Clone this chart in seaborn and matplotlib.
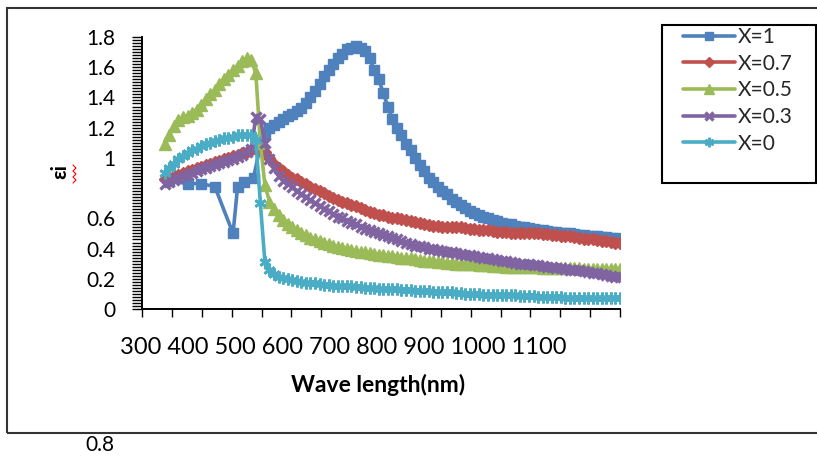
import numpy as np
import matplotlib
matplotlib.use("Agg")
import matplotlib.pyplot as plt
from matplotlib.lines import Line2D
from matplotlib.patches import Rectangle
from matplotlib.ticker import FixedLocator
import seaborn as sns

# Wavelength grids (nm)
wavelength = list(range(350, 1351, 10))
wavelength_x1 = [360, 400, 430, 460, 500, 510, 525, 545, 560] + list(range(570, 1351, 10))

# Imaginary part of the dielectric function, one list per composition
eps_x1 = [
    0.85, 0.83, 0.83, 0.81, 0.50, 0.81, 0.84, 0.87, 1.08,
    1.16, 1.20, 1.22, 1.24, 1.26, 1.28, 1.29, 1.31, 1.33, 1.36,
    1.40, 1.44, 1.49, 1.54, 1.58, 1.62, 1.66, 1.69, 1.72, 1.73,
    1.74, 1.73, 1.71, 1.66, 1.58, 1.52, 1.43, 1.34, 1.26, 1.20,
    1.15, 1.09, 1.05, 1.00, 0.95, 0.91, 0.87, 0.84, 0.81, 0.78,
    0.76, 0.73, 0.71, 0.69, 0.67, 0.65, 0.635, 0.62, 0.61, 0.60,
    0.59, 0.58, 0.57, 0.565, 0.56, 0.55, 0.545, 0.54, 0.535, 0.53,
    0.525, 0.52, 0.515, 0.51, 0.51, 0.505, 0.50, 0.50, 0.495, 0.49,
    0.49, 0.485, 0.48, 0.48, 0.475, 0.475, 0.47, 0.47, 0.465,
]
eps_x07 = [
    0.86, 0.87, 0.88, 0.89, 0.90, 0.91, 0.92, 0.93, 0.94, 0.95,
    0.96, 0.97, 0.98, 0.99, 1.00, 1.01, 1.02, 1.03, 1.04, 1.05,
    1.06, 1.07, 1.04, 1.00, 0.96, 0.93, 0.91, 0.89, 0.87, 0.86,
    0.84, 0.83, 0.81, 0.795, 0.78, 0.765, 0.75, 0.735, 0.72, 0.71,
    0.70, 0.69, 0.68, 0.67, 0.655, 0.645, 0.635, 0.625, 0.62, 0.61,
    0.605, 0.60, 0.595, 0.59, 0.58, 0.575, 0.57, 0.56, 0.555, 0.55,
    0.55, 0.545, 0.545, 0.54, 0.54, 0.54, 0.535, 0.53, 0.53, 0.525,
    0.525, 0.52, 0.515, 0.51, 0.51, 0.51, 0.505, 0.505, 0.50, 0.50,
    0.50, 0.50, 0.50, 0.495, 0.495, 0.49, 0.49, 0.485, 0.48, 0.48,
    0.475, 0.47, 0.465, 0.46, 0.46, 0.455, 0.45, 0.45, 0.445, 0.44,
    0.44,
]
eps_x05 = [
    1.09, 1.15, 1.21, 1.25, 1.27, 1.28, 1.30, 1.32, 1.35, 1.39,
    1.42, 1.45, 1.49, 1.52, 1.55, 1.58, 1.61, 1.64, 1.66, 1.65,
    1.56, 1.10, 0.82, 0.71, 0.66, 0.62, 0.59, 0.56, 0.54, 0.52,
    0.50, 0.49, 0.47, 0.46, 0.45, 0.44, 0.43, 0.42, 0.41, 0.405,
    0.40, 0.39, 0.385, 0.38, 0.375, 0.37, 0.365, 0.36, 0.355, 0.35,
    0.35, 0.345, 0.34, 0.34, 0.335, 0.33, 0.325, 0.32, 0.32, 0.315,
    0.31, 0.31, 0.305, 0.305, 0.30, 0.30, 0.30, 0.295, 0.295, 0.29,
    0.29, 0.29, 0.285, 0.285, 0.285, 0.28, 0.28, 0.28, 0.28, 0.275,
    0.275, 0.275, 0.275, 0.27, 0.27, 0.27, 0.27, 0.27, 0.27, 0.27,
    0.27, 0.27, 0.265, 0.265, 0.265, 0.265, 0.265, 0.265, 0.265, 0.265,
    0.265,
]
eps_x03 = [
    0.83, 0.84, 0.855, 0.87, 0.88, 0.89, 0.90, 0.915, 0.925, 0.935,
    0.945, 0.955, 0.965, 0.975, 0.985, 0.995, 1.005, 1.02, 1.04, 1.06,
    1.27, 1.26, 1.10, 0.99, 0.93, 0.88, 0.85, 0.83, 0.81, 0.78,
    0.76, 0.74, 0.72, 0.70, 0.68, 0.665, 0.65, 0.63, 0.61, 0.60,
    0.585, 0.57, 0.56, 0.545, 0.53, 0.52, 0.51, 0.50, 0.49, 0.48,
    0.47, 0.46, 0.45, 0.44, 0.43, 0.42, 0.415, 0.41, 0.40, 0.395,
    0.39, 0.385, 0.38, 0.375, 0.37, 0.365, 0.36, 0.355, 0.35, 0.345,
    0.34, 0.335, 0.33, 0.325, 0.32, 0.315, 0.31, 0.305, 0.30, 0.30,
    0.295, 0.29, 0.29, 0.285, 0.28, 0.275, 0.27, 0.27, 0.265, 0.26,
    0.26, 0.255, 0.25, 0.245, 0.24, 0.235, 0.23, 0.225, 0.22, 0.215,
    0.21,
]
eps_x0 = [
    0.90, 0.93, 0.96, 0.99, 1.01, 1.03, 1.05, 1.06, 1.08, 1.09,
    1.10, 1.11, 1.12, 1.13, 1.13, 1.14, 1.15, 1.15, 1.15, 1.15,
    1.12, 0.70, 0.31, 0.26, 0.23, 0.215, 0.205, 0.20, 0.19, 0.185,
    0.18, 0.175, 0.17, 0.17, 0.165, 0.16, 0.16, 0.155, 0.155, 0.15,
    0.15, 0.15, 0.145, 0.145, 0.14, 0.14, 0.14, 0.135, 0.135, 0.13,
    0.13, 0.13, 0.125, 0.125, 0.125, 0.12, 0.12, 0.12, 0.12, 0.115,
    0.115, 0.11, 0.11, 0.11, 0.105, 0.105, 0.10, 0.10, 0.10, 0.10,
    0.095, 0.095, 0.095, 0.09, 0.09, 0.09, 0.09, 0.09, 0.085, 0.085,
    0.085, 0.085, 0.08, 0.08, 0.08, 0.08, 0.08, 0.08, 0.075, 0.075,
    0.075, 0.075, 0.075, 0.07, 0.07, 0.07, 0.07, 0.07, 0.07, 0.07,
    0.07,
]

series_labels = ["X=1", "X=0.7", "X=0.5", "X=0.3", "X=0"]
x_tick_labels = ["300", "400", "500", "600", "700", "800", "900", "1000", "1100"]
y_ticks = [0, 0.2, 0.4, 0.6, 0.8, 1.0, 1.2, 1.4, 1.6, 1.8]
y_tick_labels = ["0", "0.2", "0.4", "0.6", "", "1", "1.2", "1.4", "1.6", "1.8"]

sns.set_theme(style="white")
plt.rcParams["font.family"] = ["Lato", "DejaVu Sans"]

W, H = 817, 457
fig = plt.figure(figsize=(W / 100, H / 100), dpi=100)
fig.patch.set_facecolor("white")
ax = fig.add_axes([142 / W, 1 - 309 / H, 478 / W, 272 / H])

styles = [
    (wavelength_x1, eps_x1, "#4F81BD", "s", 7.5, 1.0),
    (wavelength, eps_x07, "#C0504D", "D", 6.5, 1.0),
    (wavelength, eps_x05, "#9BBB59", "^", 8.5, 1.0),
    (wavelength, eps_x03, "#8064A2", "x", 7.0, 2.4),
    (wavelength, eps_x0, "#4BACC6", (6, 2, 0), 8.5, 2.0),
]
for label, (xs, ys, color, marker, ms, mew) in zip(series_labels, styles):
    sns.lineplot(x=xs, y=ys, ax=ax, color=color, linewidth=2.6,
                 marker=marker, markersize=ms, markeredgewidth=mew,
                 markeredgecolor=color, markerfacecolor=color,
                 label=label, sort=False, estimator=None)

ax.set_xlim(300, 1350)
ax.set_ylim(0, 1.8)
ax.set_xlabel("")
ax.set_ylabel("")
for side in ("top", "right"):
    ax.spines[side].set_visible(False)
for side in ("left", "bottom"):
    ax.spines[side].set_color("black")
    ax.spines[side].set_linewidth(1.4)

ax.set_yticks(y_ticks, y_tick_labels)
ax.yaxis.set_minor_locator(FixedLocator(np.arange(0, 1.8001, 0.02)))
ax.tick_params(axis="y", which="both", left=True, direction="out",
               length=7, width=1.0, color="black")
ax.tick_params(axis="y", which="major", pad=12, labelsize=15,
               labelcolor="black")

ax.set_xticks([])
ax.xaxis.set_minor_locator(FixedLocator(np.linspace(300, 1350, 17)))
ax.tick_params(axis="x", which="minor", bottom=True, direction="out",
               length=6, width=1.0, color="black")

# Legend
handles, labels = ax.get_legend_handles_labels()
if ax.get_legend() is not None:
    ax.get_legend().remove()
leg = fig.legend(handles, labels, loc="upper left",
                 bbox_to_anchor=(683 / W, 1 - 27 / H), frameon=False,
                 fontsize=15, handlelength=2.5, handletextpad=0.15,
                 labelspacing=0.32, borderpad=0, borderaxespad=0,
                 markerscale=0.8)
fig.add_artist(Rectangle((662 / W, 1 - 183 / H), 154 / W, 158 / H,
                         transform=fig.transFigure, fill=False,
                         edgecolor="black", linewidth=1.5))

# Outer chart border
fig.add_artist(Rectangle((7 / W, 1 - 433 / H), 830 / W, 425 / H,
                         transform=fig.transFigure, fill=False,
                         edgecolor="#333333", linewidth=1.5))

# Axis texts
fig.text(120 / W, 1 - 347 / H, " ".join(x_tick_labels), ha="left",
         va="center", fontsize=17, color="black")
fig.text(378 / W, 1 - 385 / H, "Wave length(nm)", ha="center",
         va="center", fontsize=16.5, fontweight="bold", color="black")
fig.text(60 / W, 1 - 172 / H, "εi", rotation=90, ha="center",
         va="center", fontsize=15, fontweight="bold", color="black")
squiggle_y = np.arange(165, 184, 3)
squiggle_x = [73 if i % 2 == 0 else 76 for i in range(len(squiggle_y))]
fig.add_artist(Line2D([x / W for x in squiggle_x],
                      [1 - y / H for y in squiggle_y],
                      transform=fig.transFigure, color="red", linewidth=0.8))
fig.text(100 / W, 1 - 445 / H, "0.8", ha="center", va="center",
         fontsize=15, color="black")

fig.savefig("out.png", dpi=100)
